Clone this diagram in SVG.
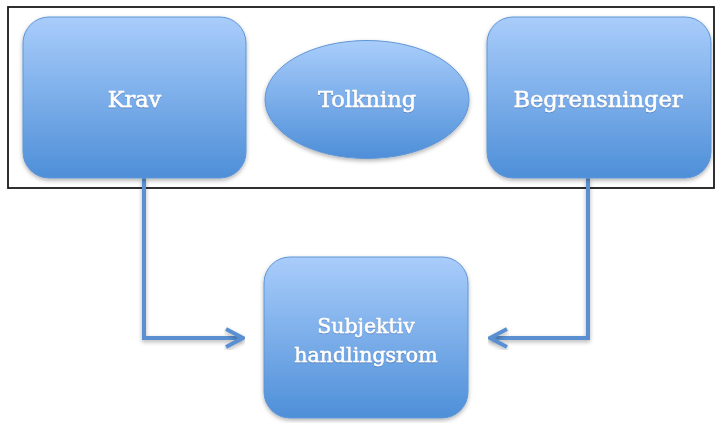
<svg xmlns="http://www.w3.org/2000/svg" width="716" height="423" viewBox="0 0 716 423">
  <defs>
    <linearGradient id="boxFill" x1="0" y1="0" x2="0" y2="1">
      <stop offset="0" stop-color="#a9cdfb"/>
      <stop offset="1" stop-color="#4e8fd8"/>
    </linearGradient>
    <filter id="soft" x="-10%" y="-10%" width="120%" height="125%">
      <feDropShadow dx="0" dy="2" stdDeviation="2" flood-color="#000" flood-opacity="0.3"/>
    </filter>
    <filter id="txtShadow" x="-5%" y="-20%" width="110%" height="140%">
      <feDropShadow dx="0" dy="0.6" stdDeviation="0.6" flood-color="#2a4f80" flood-opacity="0.6"/>
    </filter>
    <style>
      .shape { fill: url(#boxFill); stroke: #5f95d6; stroke-width: 1; filter: url(#soft); }
      .label { fill: #ffffff; stroke: #ffffff; stroke-width: 0.5; font-family: "DejaVu Serif", "Liberation Serif", serif; text-anchor: middle; filter: url(#txtShadow); }
      .big { font-size: 22.5px; }
      .small { font-size: 20.5px; }
      .wire { fill: none; stroke: #5a90d2; stroke-width: 4; stroke-linejoin: miter; filter: url(#soft); }
    </style>
  </defs>

  <rect x="0" y="0" width="716" height="423" fill="#ffffff"/>

  <!-- frame around the top row -->
  <rect id="frame" x="8" y="7" width="706" height="181" fill="none" stroke="#1a1a1a" stroke-width="1.8"/>

  <g id="connectors">
    <path class="wire" d="M144,178 V338 H241"/>
    <path class="wire" d="M226,329 L243,338 L226,347"/>
    <path class="wire" d="M588,178 V338 H491"/>
    <path class="wire" d="M507,329 L490,338 L507,347"/>
  </g>

  <g id="krav">
    <rect class="shape" x="23" y="17" width="223" height="161" rx="26" ry="26"/>
    <text class="label big" x="134.5" y="107">Krav</text>
  </g>

  <g id="tolkning">
    <ellipse class="shape" cx="367" cy="99.5" rx="102" ry="59"/>
    <text class="label big" x="367" y="107">Tolkning</text>
  </g>

  <g id="begrensninger">
    <rect class="shape" x="487" y="17" width="224" height="161" rx="26" ry="26"/>
    <text class="label big" x="598" y="107">Begrensninger</text>
  </g>

  <g id="subjektiv">
    <rect class="shape" x="264" y="257" width="204" height="161" rx="26" ry="26"/>
    <text class="label small" x="366" y="333">Subjektiv</text>
    <text class="label small" x="366" y="362">handlingsrom</text>
  </g>
</svg>
